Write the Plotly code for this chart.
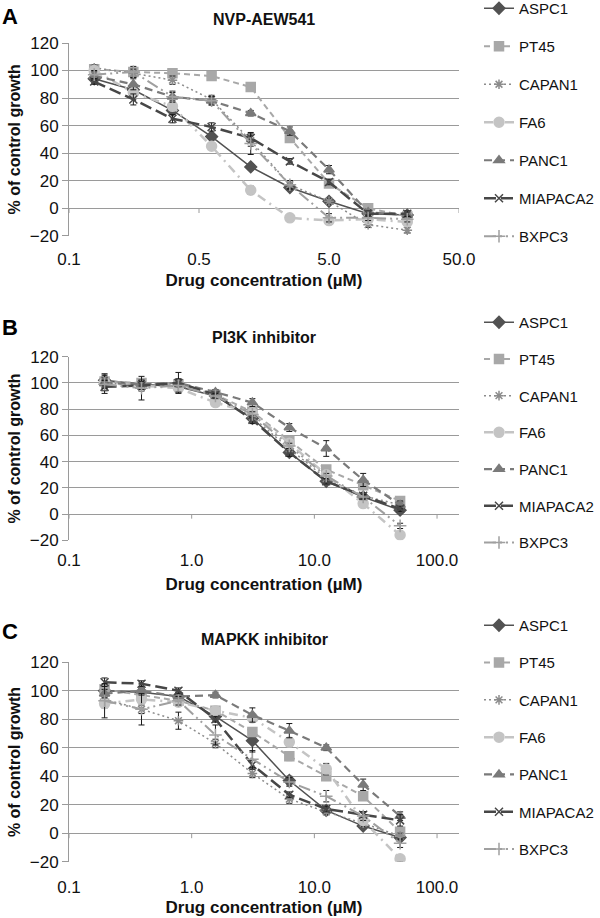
import numpy as np
import plotly.graph_objects as go

# concentrations (uM)
conc_a = [0.078125, 0.15625, 0.3125, 0.625, 1.25, 2.5, 5, 10, 20]
conc_bc = [0.195, 0.39, 0.78, 1.5625, 3.125, 6.25, 12.5, 25, 50]

cell_lines = ["ASPC1", "PT45", "CAPAN1", "FA6", "PANC1", "MIAPACA2", "BXPC3"]

# A: NVP-AEW541
aspc1_a = [94, 86, 71, 52, 30, 15, 5, -4, -5]
pt45_a = [101, 99, 98, 96, 88, 51, 18, 0, -6]
capan1_a = [102, 98, 93, 79, 49, 17, 5, -12, -16]
fa6_a = [100, 84, 74, 45, 13, -7, -9, -8, -10]
panc1_a = [96, 90, 81, 78, 69, 56, 28, -3, -5]
miapaca2_a = [92, 79, 65, 59, 51, 34, 19, -4, -4]
bxpc3_a = [97, 99, 81, 78, 47, 17, -7, -7, -8]
aspc1_a_err = [3, 3, 3, 2, 2, 2, 2, 2, 2]
pt45_a_err = [3, 3, 2, 2, 2, 2, 2, 2, 2]
capan1_a_err = [2, 3, 3, 3, 4, 3, 2, 2, 2]
fa6_a_err = [3, 3, 3, 2, 3, 2, 2, 2, 2]
panc1_a_err = [3, 4, 4, 3, 2, 3, 3, 2, 2]
miapaca2_a_err = [2, 4, 3, 3, 3, 2, 2, 2, 2]
bxpc3_a_err = [3, 4, 3, 3, 8, 3, 3, 2, 2]

# B: PI3K inhibitor
aspc1_b = [102, 99, 97, 90, 73, 47, 25, 13, 3]
pt45_b = [101, 100, 99, 91, 78, 56, 34, 22, 10]
capan1_b = [100, 98, 98, 90, 74, 50, 27, 14, 7]
fa6_b = [100, 98, 96, 85, 77, 54, 30, 8, -16]
panc1_b = [100, 99, 100, 93, 85, 66, 50, 26, 7]
miapaca2_b = [97, 98, 100, 91, 72, 47, 25, 14, 4]
bxpc3_b = [99, 96, 98, 90, 76, 52, 29, 13, -9]
aspc1_b_err = [5, 4, 4, 2, 3, 3, 2, 2, 2]
pt45_b_err = [4, 3, 3, 2, 2, 3, 2, 2, 2]
capan1_b_err = [6, 4, 4, 2, 2, 2, 2, 2, 2]
fa6_b_err = [4, 4, 3, 2, 2, 2, 2, 2, 2]
panc1_b_err = [3, 3, 3, 2, 3, 3, 6, 5, 3]
miapaca2_b_err = [5, 3, 8, 2, 3, 3, 2, 2, 2]
bxpc3_b_err = [3, 9, 5, 2, 2, 2, 2, 2, 2]

# C: MAPKK inhibitor
aspc1_c = [100, 99, 96, 82, 65, 37, 16, 5, -3]
pt45_c = [101, 97, 93, 86, 71, 54, 40, 26, 1]
capan1_c = [94, 87, 79, 63, 42, 24, 15, 7, -2]
fa6_c = [91, 94, 92, 86, 81, 64, 45, 9, -18]
panc1_c = [98, 100, 96, 97, 83, 72, 60, 34, 12]
miapaca2_c = [106, 105, 100, 80, 48, 27, 17, 13, 9]
bxpc3_c = [93, 87, 93, 69, 52, 36, 26, 12, -7]
aspc1_c_err = [3, 3, 3, 3, 8, 3, 2, 2, 2]
pt45_c_err = [3, 3, 3, 2, 3, 3, 3, 2, 2]
capan1_c_err = [3, 3, 6, 3, 3, 3, 2, 2, 2]
fa6_c_err = [3, 3, 3, 2, 3, 3, 4, 3, 2]
panc1_c_err = [3, 3, 3, 2, 5, 5, 2, 4, 3]
miapaca2_c_err = [3, 2, 2, 2, 3, 2, 2, 2, 4]
bxpc3_c_err = [12, 11, 3, 7, 6, 3, 4, 3, 3]

panels = [
    ("A", "NVP-AEW541", conc_a,
     [aspc1_a, pt45_a, capan1_a, fa6_a, panc1_a, miapaca2_a, bxpc3_a],
     [aspc1_a_err, pt45_a_err, capan1_a_err, fa6_a_err, panc1_a_err, miapaca2_a_err, bxpc3_a_err]),
    ("B", "PI3K inhibitor", conc_bc,
     [aspc1_b, pt45_b, capan1_b, fa6_b, panc1_b, miapaca2_b, bxpc3_b],
     [aspc1_b_err, pt45_b_err, capan1_b_err, fa6_b_err, panc1_b_err, miapaca2_b_err, bxpc3_b_err]),
    ("C", "MAPKK inhibitor", conc_bc,
     [aspc1_c, pt45_c, capan1_c, fa6_c, panc1_c, miapaca2_c, bxpc3_c],
     [aspc1_c_err, pt45_c_err, capan1_c_err, fa6_c_err, panc1_c_err, miapaca2_c_err, bxpc3_c_err]),
]

# line / marker styles per cell line
styles = [
    dict(color="#525252", dash="solid", width=1.5, symbol="diamond", size=9),
    dict(color="#a8a8a8", dash="6px,4px", width=2, symbol="square", size=9),
    dict(color="#8c8c8c", dash="2px,3px", width=1.5, symbol="asterisk-open", size=8),
    dict(color="#c4c4c4", dash="9px,5px,2px,5px", width=2.5, symbol="circle", size=10),
    dict(color="#7a7a7a", dash="8px,5px", width=2.2, symbol="triangle-up", size=9),
    dict(color="#474747", dash="12px,5px", width=2.5, symbol="x-thin-open", size=8),
    dict(color="#a0a0a0", dash="12px,4px,2px,4px,2px,4px", width=2, symbol="cross-thin-open", size=9),
]

W, H = 600, 918
FONT = "Liberation Sans, Arial, sans-serif"
GRID = "#9a9a9a"

def fy(px):
    return 1 - px / H

def fx(px):
    return px / W

# pixel geometry of each panel:
# (plot top, plot bottom, letter y, chart title y, legend top, legend gap, tick standoff, title standoff)
geom = [
    (43, 235.7, 17, 20, -8, 15.5, 11, 6),
    (356.7, 540.3, 327, 337, 306, 14.2, 8, 8),
    (662.3, 861.7, 631, 639, 609, 14.8, 13, 5),
]
xranges = [
    [np.log10(0.05), np.log10(50)],
    [-1, np.log10(151)],
    [-1, np.log10(151)],
]
xticks = [
    ([0.05, 0.5, 5, 50], ["0.1", "0.5", "5.0", "50.0"]),
    ([0.1, 1, 10, 100], ["0.1", "1.0", "10.0", "100.0"]),
    ([0.1, 1, 10, 100], ["0.1", "1.0", "10.0", "100.0"]),
]

fig = go.Figure()
annotations = []
shapes = []

for p, (letter, title, conc, series, errs) in enumerate(panels):
    sfx = "" if p == 0 else str(p + 1)
    leg = "legend" + sfx
    for name, vals, err, st in zip(cell_lines, series, errs, styles):
        fig.add_trace(go.Scatter(
            x=conc, y=vals,
            mode="lines+markers",
            name=name,
            legend=leg,
            legendgroup=letter + name,
            xaxis="x" + sfx, yaxis="y" + sfx,
            line=dict(color=st["color"], dash=st["dash"], width=st["width"]),
            marker=dict(symbol=st["symbol"], size=st["size"], color=st["color"],
                        line=dict(color=st["color"], width=1.5)),
            error_y=dict(type="data", array=err, visible=True,
                         color="#1a1a1a", thickness=1, width=3),
        ))

    top, bottom, letter_y, title_y, leg_top, leg_gap, tick_off, title_off = geom[p]
    tv, tt = xticks[p]
    fig.update_layout(**{
        "xaxis" + sfx: dict(
            type="log", range=xranges[p], domain=[fx(69), fx(459)],
            anchor="y" + sfx, tickvals=tv, ticktext=tt, showgrid=False,
            showline=False, zeroline=False, ticks="", automargin=False,
            ticklabelstandoff=tick_off,
            tickfont=dict(size=17, color="#111", family=FONT),
            title=dict(text="<b>Drug concentration (µM)</b>", standoff=title_off,
                       font=dict(size=17, color="#111", family=FONT)),
        ),
        "yaxis" + sfx: dict(
            range=[-20, 120], dtick=20, domain=[fy(bottom), fy(top)],
            anchor="x" + sfx, showgrid=True, gridcolor=GRID, gridwidth=1,
            showline=True, linecolor=GRID, linewidth=1, zeroline=False,
            ticks="outside", ticklen=6, tickcolor=GRID, automargin=False,
            tickfont=dict(size=17, color="#111", family=FONT),
            title=dict(text="<b>% of control growth</b>", standoff=5,
                       font=dict(size=16, color="#111", family=FONT)),
        ),
        leg: dict(
            x=fx(479), y=fy(leg_top), xanchor="left", yanchor="top",
            traceorder="grouped", tracegroupgap=leg_gap,
            font=dict(size=15, color="#111", family=FONT),
            bgcolor="rgba(0,0,0,0)",
        ),
    })

    # x axis crosses at 0: small tick marks there
    for v in tv:
        shapes.append(dict(type="line", xref="x" + sfx, yref="y" + sfx,
                           x0=v, x1=v, y0=0, y1=-3.5,
                           line=dict(color=GRID, width=1)))

    annotations.append(dict(text="<b>%s</b>" % letter, x=0, y=fy(letter_y),
                            xref="paper", yref="paper", xanchor="left", yanchor="middle",
                            showarrow=False, font=dict(size=22, color="#000", family=FONT)))
    annotations.append(dict(text="<b>%s</b>" % title, x=fx(264), y=fy(title_y),
                            xref="paper", yref="paper", xanchor="center", yanchor="middle",
                            showarrow=False, font=dict(size=16, color="#111", family=FONT)))

fig.update_layout(
    width=W, height=H,
    margin=dict(l=0, r=0, t=0, b=0, autoexpand=False),
    plot_bgcolor="white", paper_bgcolor="white",
    annotations=annotations, shapes=shapes,
    font=dict(family=FONT),
)

# page has a default 8px body margin; drop it so the figure fills the window
fig.write_html("out.html", config={"displayModeBar": False},
               post_script="document.body.style.margin='0px';")
